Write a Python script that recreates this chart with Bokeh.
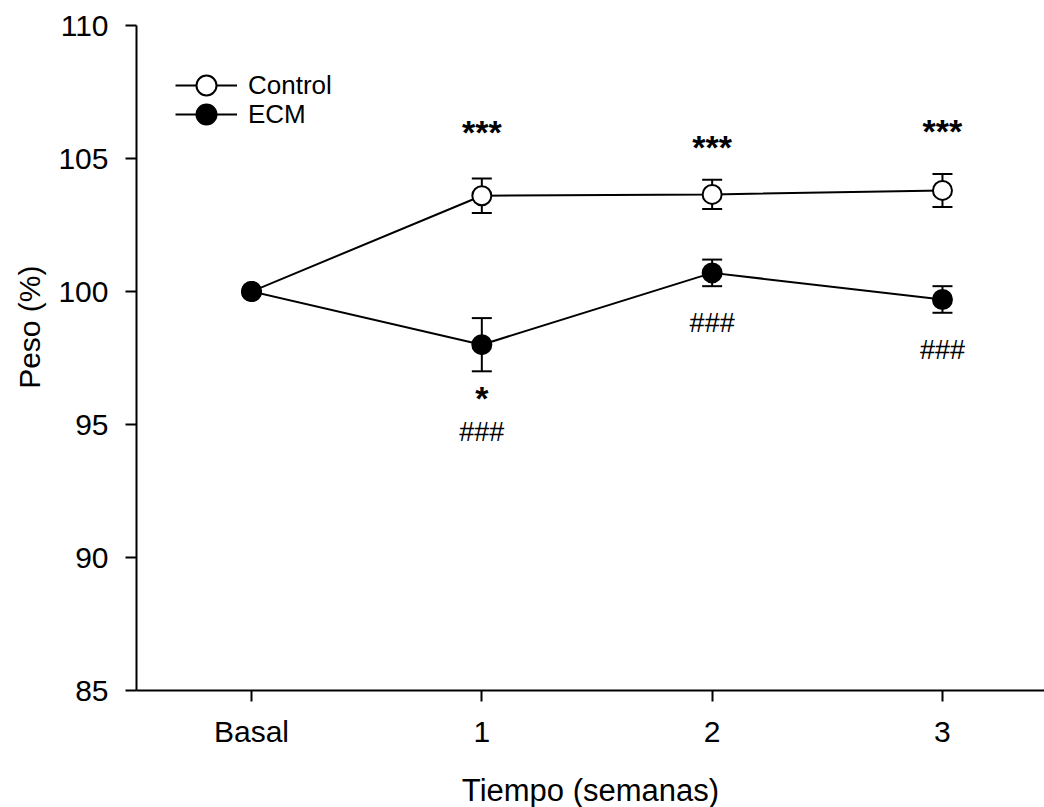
from bokeh.plotting import figure
from bokeh.models import (ColumnDataSource, Whisker, TeeHead, FixedTicker, Legend, LegendItem,
                          Range1d, Title)
from bokeh.core.properties import value
from bokeh.embed import file_html
from bokeh.resources import INLINE

# ---- data ----
x_pos = [0, 1, 2, 3]
x_labels = ["Basal", "1", "2", "3"]
control_mean = [100.0, 103.6, 103.65, 103.8]
control_err = [0.0, 0.65, 0.55, 0.62]
ecm_mean = [100.0, 98.0, 100.7, 99.7]
ecm_err = [0.0, 1.0, 0.5, 0.5]
y_ticks = [85, 90, 95, 100, 105, 110]

star_x = [1, 2, 3, 1]
star_y = [106.0, 105.45, 106.05, 96.0]
star_text = ["***", "***", "***", "*"]
hash_x = [1, 2, 3]
hash_y = [94.7, 98.8, 97.8]
hash_text = ["###", "###", "###"]

FONT = "Liberation Sans"

p = figure(width=1044, height=807, output_backend="svg", toolbar_location=None,
           x_range=Range1d(-0.4993, 3.443), y_range=Range1d(85, 110),
           min_border_left=136, min_border_right=0, min_border_top=25, min_border_bottom=117)
p.frame_width = 908
p.frame_height = 665
p.outline_line_color = None
p.xgrid.visible = False
p.ygrid.visible = False
p.background_fill_color = "white"
p.border_fill_color = "white"

def src(mean, err):
    return ColumnDataSource(dict(x=x_pos, y=mean,
                                 upper=[m + e for m, e in zip(mean, err)],
                                 lower=[m - e for m, e in zip(mean, err)]))

cs = src(control_mean, control_err)
es = src(ecm_mean, ecm_err)

l1 = p.line("x", "y", source=cs, line_color="black", line_width=2)
l2 = p.line("x", "y", source=es, line_color="black", line_width=2)

for s in (cs, es):
    w = Whisker(base="x", upper="upper", lower="lower", source=s,
                line_color="black", line_width=2,
                upper_head=TeeHead(size=20, line_color="black", line_width=2),
                lower_head=TeeHead(size=20, line_color="black", line_width=2))
    p.add_layout(w)

m1 = p.scatter("x", "y", source=cs, size=19, marker="circle", fill_color="white",
               line_color="black", line_width=2)
m2 = p.scatter("x", "y", source=es, size=19, marker="circle", fill_color="black",
               line_color="black", line_width=2)

p.text(star_x, star_y, text=star_text, text_align="center", text_baseline="middle",
       text_font=value(FONT), text_font_size="34px", text_font_style="bold", text_color="black")
p.text(hash_x, hash_y, text=hash_text, text_align="center", text_baseline="middle",
       text_font=value(FONT), text_font_size="27px", text_color="black")

def one_legend(label, rends, loc):
    return Legend(items=[LegendItem(label=label, renderers=rends)],
                  location=loc, glyph_width=62, glyph_height=50, spacing=0,
                  padding=0, margin=0, label_standoff=11,
                  label_text_font=FONT, label_text_font_size="26px",
                  label_text_color="black",
                  border_line_color=None, background_fill_alpha=0)

p.add_layout(one_legend("Control", [l1, m1], (39, 580)))
p.add_layout(one_legend("ECM", [l2, m2], (39, 551)))

for ax in (p.xaxis[0], p.yaxis[0]):
    ax.axis_line_width = 2
    ax.major_tick_line_width = 2
    ax.major_tick_out = 11
    ax.major_tick_in = 0
    ax.minor_tick_line_color = None
    ax.major_label_text_font = FONT
    ax.major_label_text_font_size = "30px"
    ax.major_label_text_color = "black"
    ax.axis_label_text_font = FONT
    ax.axis_label_text_font_size = "31px"
    ax.axis_label_text_font_style = "normal"
    ax.axis_label_text_color = "black"

p.xaxis.ticker = FixedTicker(ticks=x_pos)
p.xaxis.major_label_overrides = {x: l for x, l in zip(x_pos, x_labels)}
p.xaxis.major_label_standoff = 13
p.xaxis.axis_label = "Tiempo (semanas)"
p.xaxis.axis_label_standoff = 22

p.yaxis.ticker = FixedTicker(ticks=y_ticks)
p.yaxis.major_label_standoff = 17

ytitle = Title(text="Peso (%)", align="right", offset=240, standoff=19,
               text_font=FONT, text_font_size="30px", text_font_style="normal",
               text_color="black")
p.add_layout(ytitle, "left")

open("out.html", "w").write(file_html(p, INLINE))
